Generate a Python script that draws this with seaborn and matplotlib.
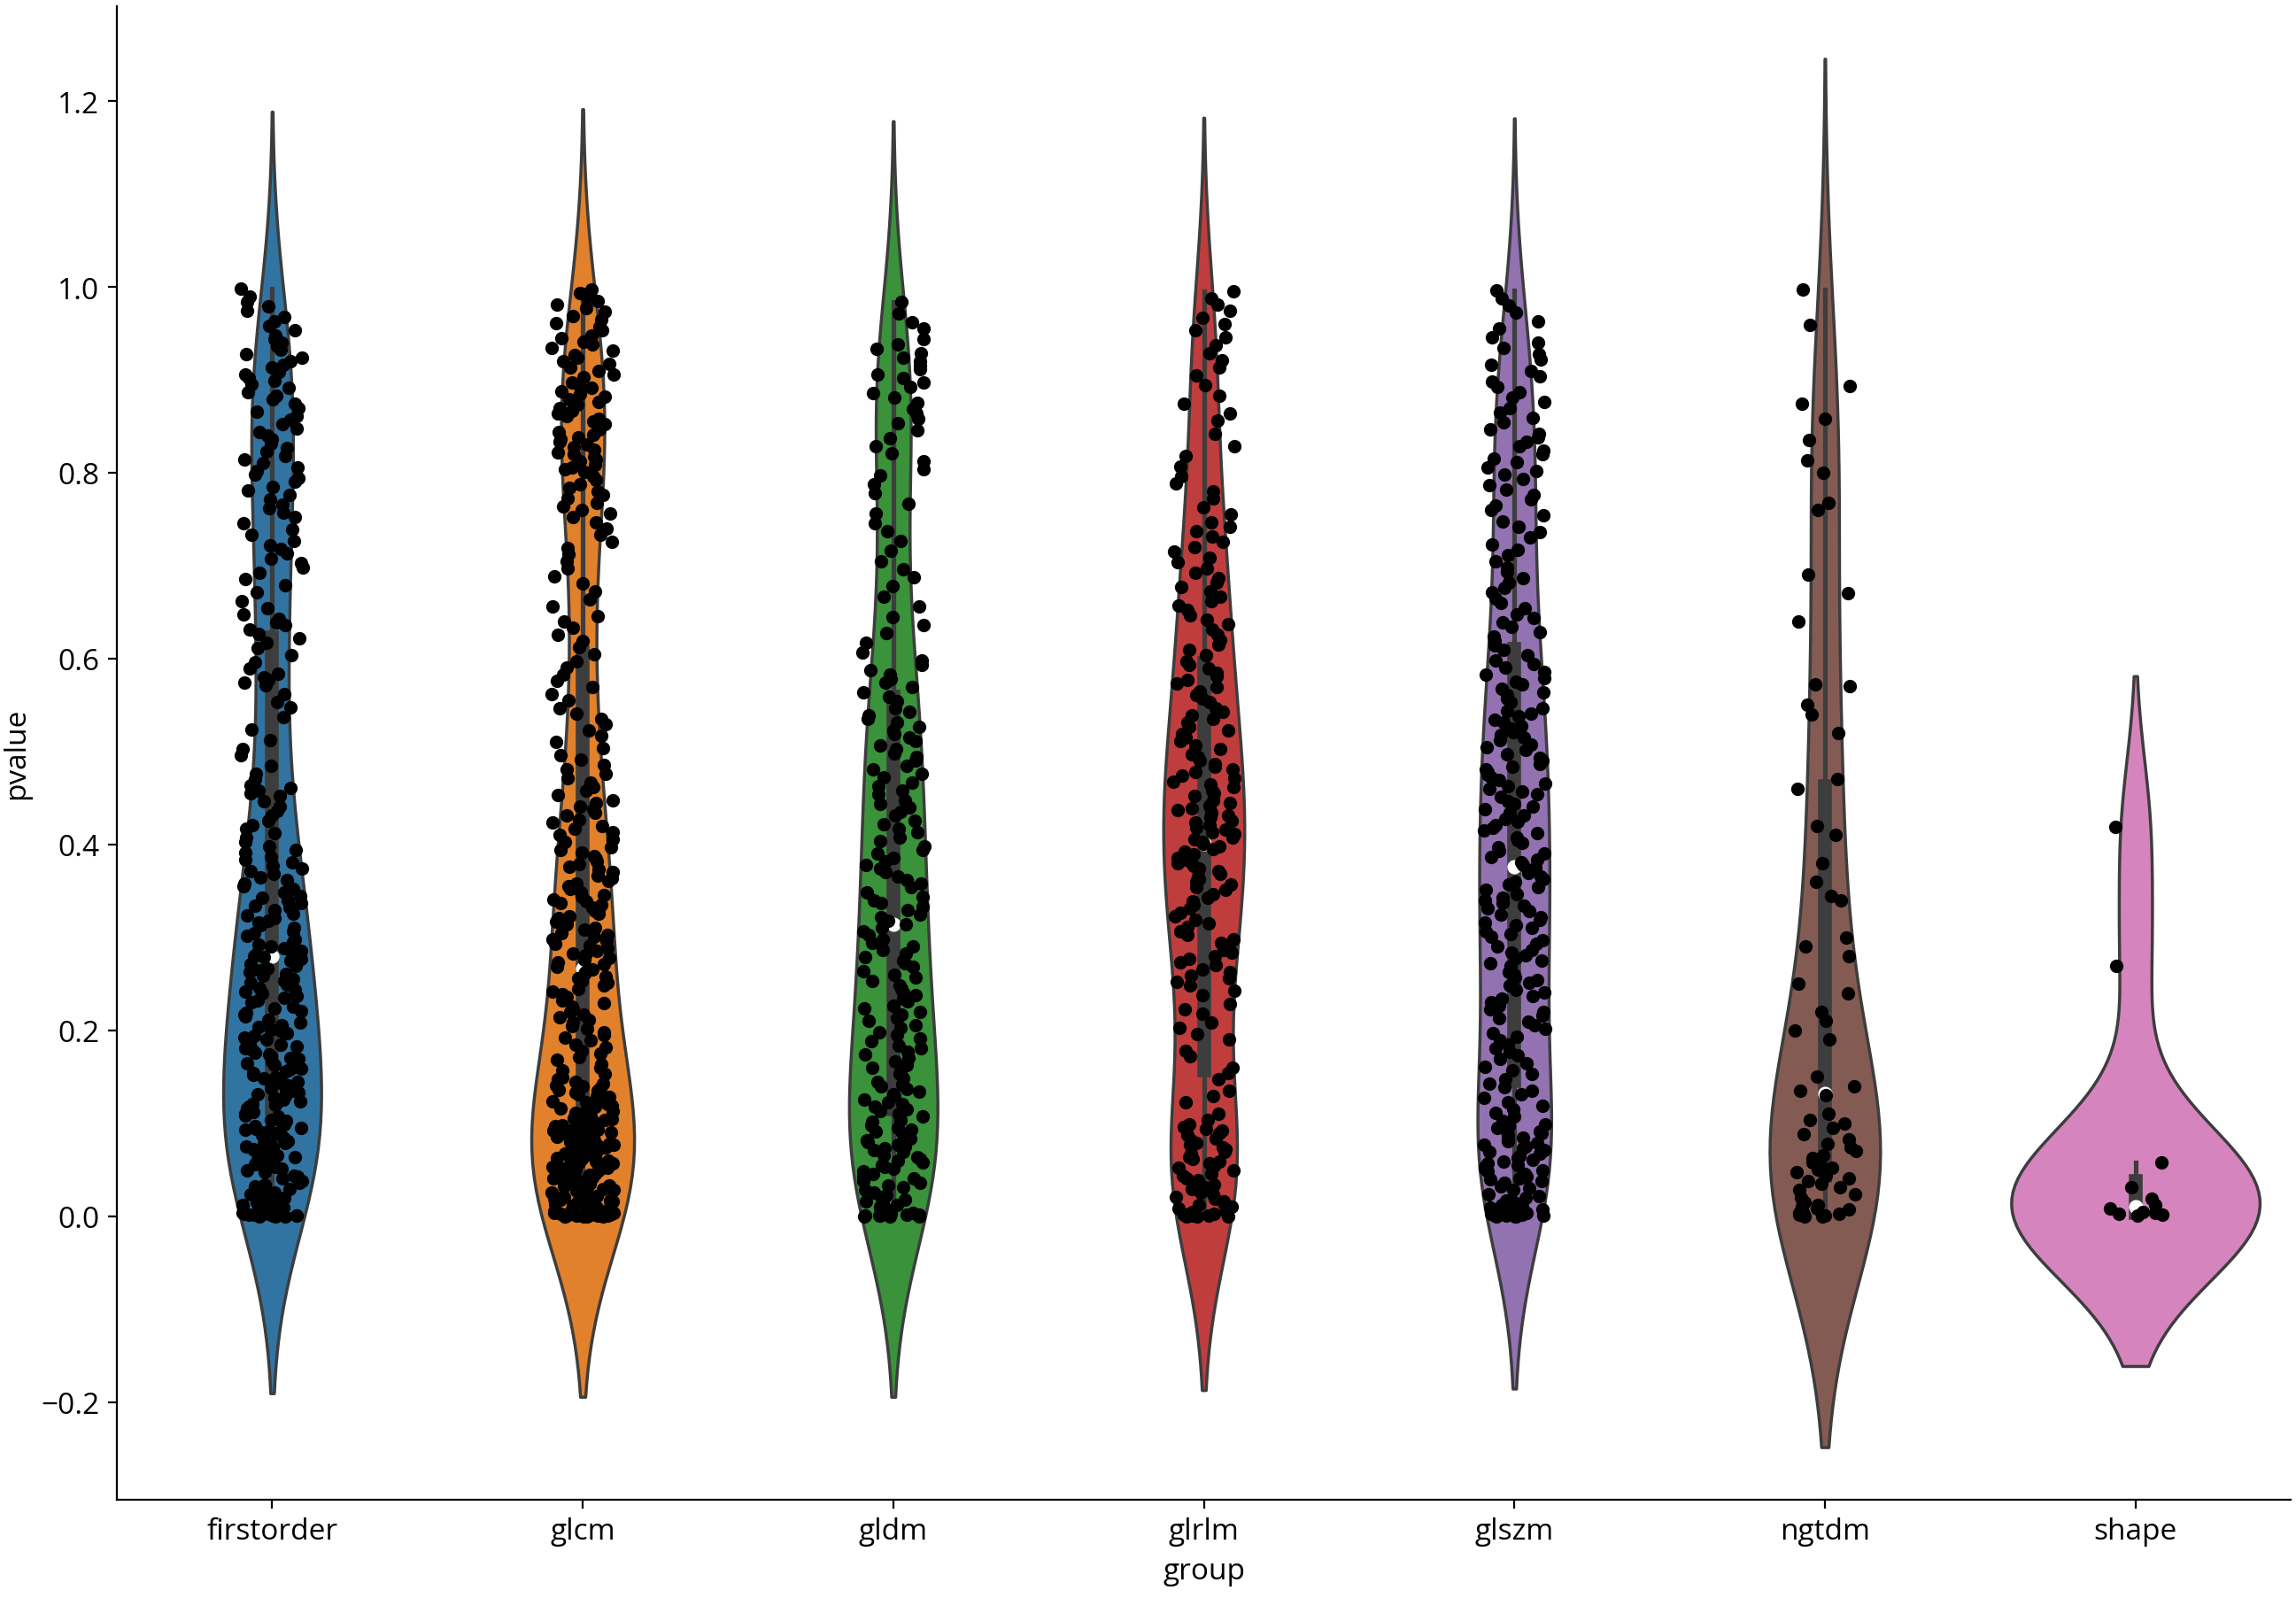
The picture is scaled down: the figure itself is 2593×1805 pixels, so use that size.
import numpy as np
import pandas as pd
import matplotlib
matplotlib.use("Agg")
import matplotlib.pyplot as plt
import seaborn as sns

# p-values per feature group
groups = ["firstorder", "glcm", "gldm", "glrlm", "glszm", "ngtdm", "shape"]

firstorder = [
    0.0, 0.0, 0.0, 0.001, 0.001, 0.001, 0.002, 0.002, 0.003, 0.003, 0.004, 0.005, 0.006, 0.007, 0.009, 0.01, 0.012, 0.013,
    0.015, 0.017, 0.019, 0.02, 0.022, 0.024, 0.026, 0.029, 0.031, 0.032, 0.034, 0.036, 0.038, 0.041, 0.043, 0.044, 0.047, 0.049,
    0.051, 0.053, 0.054, 0.056, 0.058, 0.059, 0.061, 0.062, 0.063, 0.064, 0.066, 0.067, 0.068, 0.069, 0.071, 0.072, 0.074,
    0.075, 0.077, 0.078, 0.079, 0.081, 0.082, 0.084, 0.085, 0.086, 0.087, 0.089, 0.09, 0.092, 0.093, 0.094, 0.095, 0.097, 0.099,
    0.101, 0.103, 0.104, 0.107, 0.108, 0.11, 0.112, 0.115, 0.116, 0.118, 0.12, 0.121, 0.124, 0.126, 0.127, 0.129, 0.131,
    0.133, 0.135, 0.136, 0.138, 0.14, 0.141, 0.143, 0.145, 0.146, 0.148, 0.149,
    0.152, 0.154, 0.156, 0.158, 0.159, 0.161, 0.163, 0.165, 0.167, 0.169, 0.17, 0.172, 0.174, 0.176, 0.179, 0.181,
    0.183, 0.185, 0.187, 0.19, 0.192, 0.194, 0.197, 0.199,
    0.201, 0.204, 0.206, 0.208, 0.211, 0.215, 0.217, 0.219, 0.221, 0.224, 0.226, 0.23, 0.232, 0.235, 0.237,
    0.24, 0.242, 0.244, 0.246, 0.249,
    0.251, 0.253, 0.255, 0.257, 0.259, 0.261, 0.263, 0.265, 0.267, 0.269, 0.271, 0.273, 0.275, 0.277, 0.279, 0.28, 0.282,
    0.284, 0.286, 0.288, 0.29, 0.292, 0.295, 0.298,
    0.302, 0.305, 0.307, 0.31, 0.313, 0.316, 0.318, 0.321, 0.324, 0.326, 0.329, 0.332, 0.334, 0.337, 0.34, 0.343, 0.345, 0.348,
    0.352, 0.355, 0.358, 0.362, 0.365, 0.368, 0.371, 0.374, 0.377, 0.381, 0.384, 0.387, 0.391, 0.394, 0.398,
    0.403, 0.408, 0.412, 0.417, 0.421, 0.426, 0.431, 0.436, 0.441, 0.447,
    0.452, 0.455, 0.458, 0.461, 0.464, 0.47, 0.476, 0.485, 0.496,
    0.503, 0.512, 0.524, 0.537, 0.548,
    0.553, 0.562, 0.571, 0.574, 0.577, 0.58, 0.584, 0.589, 0.596,
    0.604, 0.611, 0.617, 0.622, 0.627, 0.631, 0.636, 0.639, 0.643, 0.648,
    0.654, 0.662, 0.671, 0.679, 0.686, 0.692, 0.698,
    0.703, 0.708, 0.713, 0.718, 0.722, 0.727, 0.733, 0.739, 0.746,
    0.752, 0.757, 0.762, 0.766, 0.771, 0.776, 0.781, 0.785, 0.79, 0.794, 0.798,
    0.802, 0.806, 0.81, 0.814, 0.818, 0.823, 0.827, 0.831, 0.836, 0.84, 0.844, 0.848,
    0.852, 0.857, 0.861, 0.866, 0.87, 0.874, 0.879, 0.883, 0.887, 0.891, 0.895, 0.899,
    0.902, 0.906, 0.909, 0.913, 0.916, 0.92, 0.924, 0.928, 0.932, 0.936, 0.94, 0.944, 0.948,
    0.953, 0.958, 0.963, 0.968, 0.974, 0.979, 0.984, 0.99, 0.998,
]

glcm = [
    0.0, 0.0, 0.0, 0.0, 0.0, 0.001, 0.001, 0.001, 0.001, 0.001, 0.002, 0.002, 0.002, 0.002, 0.003, 0.003, 0.004, 0.004,
    0.005, 0.006, 0.006, 0.007, 0.008, 0.009, 0.009, 0.01, 0.011, 0.012, 0.013, 0.014, 0.015, 0.016, 0.017, 0.018, 0.019,
    0.02, 0.021, 0.022, 0.023, 0.024, 0.025, 0.026, 0.027, 0.028, 0.029, 0.031, 0.032, 0.033, 0.034, 0.035, 0.036, 0.037,
    0.038, 0.04, 0.041, 0.042, 0.043, 0.044, 0.045, 0.046, 0.047, 0.048, 0.049,
    0.05, 0.051, 0.052, 0.053, 0.054, 0.055, 0.056, 0.057, 0.058, 0.059, 0.059, 0.06, 0.061, 0.062, 0.063, 0.064, 0.065,
    0.066, 0.066, 0.067, 0.068, 0.069, 0.07, 0.071, 0.072, 0.073, 0.073, 0.074, 0.075, 0.076, 0.077, 0.078, 0.079, 0.08,
    0.081, 0.082, 0.083, 0.084, 0.085, 0.086, 0.087, 0.088, 0.089, 0.09, 0.091, 0.092, 0.093, 0.094, 0.096, 0.097, 0.098,
    0.101, 0.102, 0.104, 0.105, 0.106, 0.107, 0.108, 0.11, 0.111, 0.113, 0.114, 0.116, 0.118, 0.119, 0.121, 0.123, 0.124,
    0.126, 0.128, 0.129, 0.131, 0.133, 0.135, 0.136, 0.138, 0.14, 0.141, 0.143, 0.145, 0.147, 0.149,
    0.153, 0.157, 0.16, 0.164, 0.168, 0.171, 0.175, 0.178, 0.182, 0.185, 0.189, 0.192, 0.195, 0.198,
    0.202, 0.205, 0.208, 0.211, 0.214, 0.217, 0.22, 0.223, 0.226, 0.229, 0.232, 0.236, 0.239, 0.242, 0.245, 0.248,
    0.251, 0.253, 0.256, 0.258, 0.261, 0.263, 0.266, 0.268, 0.271, 0.273, 0.276, 0.278, 0.281, 0.283, 0.286, 0.288, 0.291,
    0.293, 0.296, 0.298,
    0.301, 0.303, 0.305, 0.308, 0.31, 0.312, 0.314, 0.317, 0.319, 0.321, 0.323, 0.326, 0.328, 0.33, 0.332, 0.335, 0.337,
    0.339, 0.341, 0.344, 0.346, 0.348,
    0.352, 0.355, 0.358, 0.361, 0.364, 0.367, 0.37, 0.373, 0.376, 0.379, 0.382, 0.385, 0.388, 0.391, 0.394, 0.397,
    0.403, 0.406, 0.41, 0.413, 0.417, 0.42, 0.424, 0.427, 0.431, 0.434, 0.438, 0.441, 0.445, 0.448,
    0.453, 0.458, 0.462, 0.467, 0.471, 0.476, 0.481, 0.486, 0.491, 0.496,
    0.504, 0.51, 0.517, 0.523, 0.529, 0.535, 0.541, 0.547,
    0.555, 0.562, 0.569, 0.576, 0.583, 0.59, 0.597,
    0.605, 0.612, 0.619, 0.626, 0.633, 0.64, 0.646,
    0.656, 0.664, 0.672, 0.681, 0.689, 0.697,
    0.705, 0.712, 0.719, 0.726, 0.733, 0.74, 0.747,
    0.752, 0.756, 0.76, 0.764, 0.768, 0.772, 0.776, 0.78, 0.784, 0.788, 0.792, 0.796,
    0.801, 0.804, 0.806, 0.809, 0.812, 0.814, 0.817, 0.82, 0.822, 0.825, 0.828, 0.83, 0.833, 0.836, 0.838, 0.841, 0.844, 0.847,
    0.852, 0.855, 0.858, 0.861, 0.864, 0.867, 0.87, 0.873, 0.876, 0.879, 0.882, 0.885, 0.888, 0.891, 0.894, 0.897,
    0.903, 0.906, 0.91, 0.913, 0.917, 0.92, 0.924, 0.927, 0.931, 0.934, 0.938, 0.941, 0.945, 0.948,
    0.953, 0.957, 0.961, 0.965, 0.969, 0.973, 0.977, 0.981, 0.985, 0.989, 0.993, 0.997,
]

gldm = [
    0.0, 0.0, 0.0, 0.001, 0.001, 0.001, 0.002, 0.002, 0.003, 0.004, 0.005, 0.007, 0.008, 0.01, 0.012, 0.014, 0.016, 0.018,
    0.021, 0.023, 0.026, 0.028, 0.031, 0.033, 0.036, 0.038, 0.041, 0.043, 0.046, 0.048,
    0.051, 0.053, 0.055, 0.058, 0.06, 0.062, 0.064, 0.066, 0.069, 0.071, 0.073, 0.075, 0.077, 0.08, 0.082, 0.084, 0.086,
    0.089, 0.091, 0.093, 0.095, 0.098,
    0.102, 0.104, 0.107, 0.11, 0.113, 0.115, 0.118, 0.121, 0.123, 0.126, 0.129, 0.131, 0.134, 0.137, 0.14, 0.142, 0.145, 0.148,
    0.153, 0.156, 0.16, 0.163, 0.167, 0.17, 0.174, 0.177, 0.181, 0.184, 0.188, 0.191, 0.195, 0.198,
    0.203, 0.206, 0.21, 0.213, 0.217, 0.22, 0.224, 0.227, 0.231, 0.234, 0.238, 0.241, 0.245, 0.248,
    0.253, 0.257, 0.26, 0.264, 0.268, 0.272, 0.275, 0.279, 0.283, 0.287, 0.29, 0.294, 0.298,
    0.303, 0.307, 0.31, 0.314, 0.318, 0.322, 0.325, 0.329, 0.333, 0.337, 0.34, 0.344, 0.348,
    0.354, 0.358, 0.362, 0.366, 0.37, 0.374, 0.378, 0.382, 0.386, 0.39, 0.394, 0.398,
    0.404, 0.408, 0.413, 0.417, 0.422, 0.426, 0.431, 0.435, 0.44, 0.444, 0.448,
    0.454, 0.458, 0.463, 0.467, 0.472, 0.476, 0.481, 0.485, 0.49, 0.494, 0.498,
    0.503, 0.507, 0.511, 0.515, 0.519, 0.523, 0.527, 0.531, 0.535, 0.539, 0.543, 0.547,
    0.554, 0.559, 0.564, 0.569, 0.574, 0.578, 0.583, 0.588, 0.593, 0.598,
    0.607, 0.617, 0.628, 0.636, 0.645,
    0.656, 0.667, 0.678, 0.688, 0.696,
    0.705, 0.716, 0.727, 0.737, 0.746,
    0.756, 0.767, 0.778, 0.788, 0.797,
    0.804, 0.812, 0.821, 0.829, 0.837, 0.846,
    0.853, 0.858, 0.864, 0.869, 0.875, 0.881, 0.886, 0.892, 0.897,
    0.902, 0.906, 0.911, 0.915, 0.92, 0.924, 0.929, 0.933, 0.938, 0.944,
    0.955, 0.962, 0.971, 0.984,
]

glrlm = [
    0.0, 0.0, 0.0, 0.001, 0.001, 0.001, 0.002, 0.002, 0.003, 0.004, 0.005, 0.006, 0.008, 0.01, 0.012, 0.014, 0.016, 0.019,
    0.021, 0.024, 0.026, 0.029, 0.031, 0.034, 0.036, 0.039, 0.041, 0.044, 0.046, 0.049,
    0.052, 0.054, 0.057, 0.059, 0.062, 0.064, 0.067, 0.069, 0.072, 0.074, 0.077, 0.079, 0.082, 0.084, 0.087, 0.089, 0.092,
    0.094, 0.096, 0.099,
    0.104, 0.11, 0.123, 0.129, 0.135, 0.147,
    0.154, 0.16, 0.172, 0.178, 0.19, 0.196,
    0.203, 0.208, 0.218, 0.223, 0.228, 0.238, 0.243, 0.248,
    0.252, 0.256, 0.259, 0.263, 0.266, 0.27, 0.273, 0.277, 0.28, 0.284, 0.287, 0.291, 0.294, 0.298,
    0.303, 0.307, 0.311, 0.315, 0.319, 0.323, 0.327, 0.331, 0.335, 0.339, 0.343, 0.347,
    0.351, 0.354, 0.357, 0.36, 0.363, 0.366, 0.368, 0.371, 0.374, 0.377, 0.38, 0.383, 0.386, 0.389, 0.392, 0.395, 0.398,
    0.401, 0.403, 0.406, 0.408, 0.411, 0.413, 0.416, 0.418, 0.421, 0.424, 0.426, 0.429, 0.431, 0.434, 0.437, 0.439, 0.442,
    0.445, 0.448,
    0.452, 0.455, 0.458, 0.462, 0.465, 0.468, 0.471, 0.474, 0.478, 0.481, 0.484, 0.487, 0.49, 0.494, 0.497,
    0.503, 0.507, 0.511, 0.515, 0.519, 0.523, 0.527, 0.531, 0.535, 0.539, 0.543, 0.547,
    0.553, 0.557, 0.561, 0.565, 0.569, 0.573, 0.577, 0.581, 0.585, 0.589, 0.593, 0.597,
    0.604, 0.609, 0.615, 0.62, 0.626, 0.631, 0.637, 0.642, 0.647,
    0.652, 0.657, 0.662, 0.667, 0.672, 0.677, 0.682, 0.687, 0.692, 0.697,
    0.704, 0.709, 0.715, 0.72, 0.726, 0.731, 0.737, 0.742, 0.747,
    0.755, 0.763, 0.772, 0.78, 0.789, 0.796,
    0.807, 0.818, 0.829, 0.842,
    0.856, 0.864, 0.874, 0.883, 0.894,
    0.905, 0.913, 0.921, 0.929, 0.937, 0.946,
    0.953, 0.96, 0.967, 0.974, 0.981, 0.988, 0.995,
]

glszm = [
    0.0, 0.0, 0.0, 0.001, 0.001, 0.001, 0.002, 0.002, 0.003, 0.004, 0.005, 0.006, 0.007, 0.009,
    0.01, 0.012, 0.015, 0.017, 0.02, 0.022, 0.024, 0.028, 0.03, 0.032, 0.036, 0.038, 0.04,
    0.041, 0.043, 0.046, 0.048, 0.049,
    0.051, 0.053, 0.055, 0.057, 0.059, 0.061, 0.063, 0.065, 0.067, 0.069, 0.071, 0.073, 0.075, 0.077, 0.079, 0.081, 0.083,
    0.085, 0.087, 0.089, 0.091, 0.093, 0.095, 0.097, 0.099,
    0.103, 0.107, 0.111, 0.115, 0.119, 0.123, 0.127, 0.131, 0.135, 0.139, 0.143, 0.147,
    0.153, 0.157, 0.161, 0.165, 0.169, 0.173, 0.177, 0.181, 0.185, 0.189, 0.193, 0.197,
    0.202, 0.206, 0.209, 0.213, 0.216, 0.22, 0.223, 0.227, 0.23, 0.234, 0.237, 0.241, 0.244, 0.248,
    0.251, 0.254, 0.257, 0.26, 0.263, 0.266, 0.269, 0.272, 0.275, 0.278, 0.281, 0.284, 0.287, 0.29, 0.293, 0.297,
    0.301, 0.304, 0.307, 0.31, 0.313, 0.316, 0.319, 0.322, 0.325, 0.328, 0.331, 0.334, 0.337, 0.34, 0.343, 0.347,
    0.351, 0.354, 0.357, 0.36, 0.363, 0.366, 0.369, 0.372, 0.375, 0.378, 0.381, 0.384, 0.387, 0.39, 0.393, 0.397,
    0.402, 0.405, 0.408, 0.412, 0.415, 0.418, 0.421, 0.425, 0.428, 0.431, 0.434, 0.438, 0.441, 0.444, 0.447,
    0.451, 0.454, 0.457, 0.46, 0.463, 0.466, 0.469, 0.472, 0.475, 0.478, 0.481, 0.484, 0.487, 0.49, 0.493, 0.497,
    0.502, 0.505, 0.508, 0.512, 0.515, 0.518, 0.521, 0.525, 0.528, 0.531, 0.534, 0.538, 0.541, 0.544, 0.547,
    0.553, 0.557, 0.561, 0.564, 0.568, 0.572, 0.575, 0.579, 0.583, 0.586, 0.59, 0.594, 0.598,
    0.604, 0.609, 0.614, 0.619, 0.624, 0.629, 0.634, 0.639, 0.644, 0.648,
    0.654, 0.66, 0.665, 0.671, 0.676, 0.682, 0.687, 0.693, 0.698,
    0.705, 0.711, 0.717, 0.723, 0.73, 0.736, 0.742, 0.748,
    0.754, 0.76, 0.765, 0.771, 0.776, 0.782, 0.787, 0.793, 0.798,
    0.802, 0.806, 0.811, 0.815, 0.82, 0.824, 0.829, 0.833, 0.838, 0.842, 0.847,
    0.854, 0.859, 0.865, 0.87, 0.876, 0.881, 0.887, 0.892, 0.898,
    0.904, 0.91, 0.916, 0.922, 0.928, 0.934, 0.94, 0.946,
    0.955, 0.963, 0.972, 0.98, 0.988, 0.996,
]

ngtdm = [
    0.0, 0.0, 0.001, 0.002, 0.003, 0.004, 0.005, 0.007, 0.008, 0.01, 0.012, 0.015, 0.02, 0.024, 0.028, 0.031, 0.035, 0.038,
    0.041, 0.044, 0.047, 0.05, 0.052, 0.055, 0.058, 0.06, 0.063, 0.066, 0.07, 0.074, 0.078, 0.083, 0.088, 0.095, 0.1,
    0.104, 0.11, 0.13, 0.135, 0.14, 0.15, 0.19, 0.2, 0.21, 0.22, 0.24, 0.25, 0.28, 0.29, 0.3, 0.34, 0.345, 0.36, 0.38,
    0.41, 0.42, 0.46, 0.47, 0.52, 0.54, 0.55, 0.57, 0.572, 0.64, 0.67, 0.69, 0.76, 0.768, 0.8, 0.813, 0.835, 0.858,
    0.874, 0.893, 0.959, 0.997,
]

shape = [0.419, 0.269, 0.058, 0.031, 0.019, 0.012, 0.008, 0.005, 0.004, 0.003, 0.002, 0.001]

values = [firstorder, glcm, gldm, glrlm, glszm, ngtdm, shape]
df = pd.DataFrame({
    "group": [g for g, v in zip(groups, values) for _ in v],
    "pvalue": [p for v in values for p in v],
})

plt.rcParams["font.family"] = ["Open Sans", "DejaVu Sans"]
plt.rcParams["font.size"] = 12

np.random.seed(3)
fig = plt.figure(figsize=(2593 / 200, 1806 / 200), dpi=200)
ax = fig.add_axes([132 / 2593, 111 / 1806, 2455 / 2593, 1687 / 1806])

sns.violinplot(data=df, x="group", y="pvalue", hue="group", order=groups,
               palette="tab10", legend=False, common_norm=True,
               inner_kws=dict(marker="o"), ax=ax)
sns.stripplot(data=df, x="group", y="pvalue", order=groups, color="black",
              size=5.5, ax=ax)

sns.despine(ax=ax)
ax.set_xlim(-0.5, 6.5)
ax.set_ylim(-0.305, 1.302)
ax.set_yticks([-0.2, 0.0, 0.2, 0.4, 0.6, 0.8, 1.0, 1.2])
ax.set_xlabel("group")
ax.set_ylabel("pvalue")

fig.savefig("out.png", dpi=200)
